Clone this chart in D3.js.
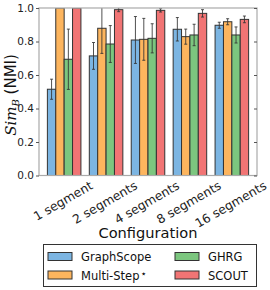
<!DOCTYPE html>
<html>
<head>
<meta charset="utf-8">
<style>
  body { margin: 0; background: #fff; }
  svg text { font-family: "DejaVu Sans", sans-serif; }
</style>
</head>
<body>
<svg width="270" height="290"></svg>
<script src="https://d3js.org/d3.v7.min.js"></script>
<script>
// chart values
var configs = ["1 segment", "2 segments", "4 segments", "8 segments", "16 segments"];
var methods = ["GraphScope", "Multi-Step", "GHRG", "SCOUT"];
var colors = ["#7cb5e2", "#fdb55e", "#7cc67f", "#f17474"];
var graphscope = [0.515, 0.714, 0.809, 0.873, 0.897];
var multistep = [1.0, 0.879, 0.813, 0.829, 0.918];
var ghrg = [0.694, 0.785, 0.819, 0.839, 0.839];
var scout = [1.0, 0.99, 0.986, 0.968, 0.932];
var graphscopeErr = [0.06, 0.08, 0.14, 0.07, 0.018];
var multistepErr = [0, 0.15, 0.125, 0.045, 0.018];
var ghrgErr = [0.18, 0.11, 0.087, 0.064, 0.048];
var scoutErr = [0, 0.012, 0.01, 0.022, 0.02];
var yTicks = [0, 0.2, 0.4, 0.6, 0.8, 1.0];

var series = [graphscope, multistep, ghrg, scout];
var errs = [graphscopeErr, multistepErr, ghrgErr, scoutErr];

var svg = d3.select("svg");
var pLeft = 39, pRight = 257, pTop = 8, pBottom = 175.5;
var barW = 0.2;

var x = d3.scaleLinear().domain([-0.2, 5.0]).range([pLeft, pRight]);
var y = d3.scaleLinear().domain([0, 1]).range([pBottom, pTop]);

svg.append("clipPath").attr("id", "plotclip")
  .append("rect").attr("x", pLeft).attr("y", pTop).attr("width", pRight - pLeft).attr("height", pBottom - pTop);

var plot = svg.append("g").attr("clip-path", "url(#plotclip)");

// bars
series.forEach(function (vals, j) {
  plot.append("g").selectAll("rect")
    .data(vals)
    .enter().append("rect")
    .attr("x", function (d, i) { return x(i + j * barW); })
    .attr("y", function (d) { return y(d); })
    .attr("width", x(barW) - x(0))
    .attr("height", function (d) { return y(0) - y(d); })
    .style("fill", colors[j])
    .style("stroke", "#333")
    .style("stroke-width", 1);
});

// error bars
series.forEach(function (vals, j) {
  var g = plot.append("g");
  vals.forEach(function (v, i) {
    var e = errs[j][i];
    if (e <= 0) return;
    var cx = x(i + j * barW + barW / 2);
    var y1 = y(v + e), y2 = y(v - e);
    g.append("line").attr("x1", cx).attr("x2", cx).attr("y1", y1).attr("y2", y2)
      .style("stroke", "#333").style("stroke-width", 1).style("opacity", 0.85);
    [y1, y2].forEach(function (yy) {
      g.append("line").attr("x1", cx - 1.5).attr("x2", cx + 1.5).attr("y1", yy).attr("y2", yy)
        .style("stroke", "#333").style("stroke-width", 1).style("opacity", 0.85);
    });
  });
});

// frame
svg.append("rect").attr("x", pLeft).attr("y", pTop).attr("width", pRight - pLeft).attr("height", pBottom - pTop)
  .style("fill", "none").style("stroke", "#aaa").style("stroke-width", 1.2);

// y axis
var yAxis = svg.append("g").attr("transform", "translate(" + pLeft + ",0)")
  .call(d3.axisLeft(y).tickValues(yTicks).tickFormat(d3.format(".1f")).tickSize(3).tickPadding(2));
yAxis.select(".domain").remove();
yAxis.selectAll("line").style("stroke", "#555");
yAxis.selectAll("text").style("font-size", "10.5px").style("fill", "#222")
  .style("font-family", "DejaVu Sans");

var yAxisR = svg.append("g").attr("transform", "translate(" + pRight + ",0)")
  .call(d3.axisLeft(y).tickValues(yTicks).tickFormat("").tickSize(3));
yAxisR.select(".domain").remove();
yAxisR.selectAll("line").style("stroke", "#555");

// x tick labels, rotated and centred on group centre
configs.forEach(function (c, i) {
  var t = svg.append("text")
    .attr("text-anchor", "middle")
    .attr("dominant-baseline", "central")
    .style("font-size", "12.3px")
    .style("fill", "#222")
    .text(c);
  var w = t.node().getComputedTextLength();
  var a = 30 * Math.PI / 180;
  var h = w * Math.sin(a) + 12 * Math.cos(a);
  var cx = x(i + 0.4) - 1;
  var cy = pBottom + 4 + h / 2;
  t.attr("transform", "translate(" + cx + "," + cy + ") rotate(-30)");
});

// axis titles
svg.append("text")
  .attr("x", (pLeft + pRight) / 2).attr("y", 237.5)
  .attr("text-anchor", "middle")
  .style("font-size", "14.6px").style("fill", "#111")
  .text("Configuration");

var yl = svg.append("text")
  .attr("transform", "translate(16,95) rotate(-90)")
  .attr("text-anchor", "middle")
  .style("font-size", "15px").style("fill", "#111");
yl.append("tspan").style("font-family", "DejaVu Serif").style("font-style", "italic").text("Sim");
yl.append("tspan").style("font-family", "DejaVu Serif").style("font-style", "italic")
  .style("font-size", "10px").attr("dy", 3).text("B");
yl.append("tspan").attr("dy", -3).text(" (NMI)");

// legend
var lg = svg.append("g");
lg.append("rect").attr("x", 43.5).attr("y", 244.5).attr("width", 213).attr("height", 42)
  .style("fill", "#fff").style("stroke", "#333").style("stroke-width", 1);
var pos = [[48, 252.5], [48, 271], [175, 252.5], [175, 271]];
methods.forEach(function (m, j) {
  lg.append("rect").attr("x", pos[j][0]).attr("y", pos[j][1]).attr("width", 24).attr("height", 8)
    .style("fill", colors[j]).style("stroke", "#333").style("stroke-width", 1);
  var t = lg.append("text").attr("x", pos[j][0] + 33).attr("y", pos[j][1] + 8.5)
    .style("font-size", "11.5px").style("fill", "#111").text(m);
  if (m === "Multi-Step") {
    t.append("tspan").attr("dx", 1).attr("dy", -3).style("font-size", "10px").text("\u22c6");
  }
});
</script>
</body>
</html>
